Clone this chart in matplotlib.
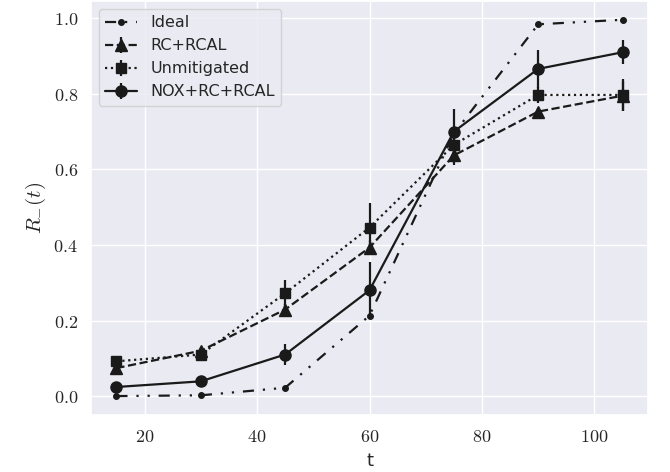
import matplotlib
matplotlib.use('Agg')
import matplotlib.pyplot as plt
from matplotlib.ticker import FormatStrFormatter
import seaborn as sns
import numpy as np

# values
t = [15, 30, 45, 60, 75, 90, 105]
ideal = [0.0, 0.002, 0.022, 0.213, 0.695, 0.984, 0.996]
rc_rcal = [0.074, 0.12, 0.229, 0.393, 0.637, 0.753, 0.795]
rc_rcal_err = [0.01, 0.01, 0.015, 0.02, 0.025, 0.01, 0.04]
unmit = [0.092, 0.11, 0.272, 0.446, 0.665, 0.797, 0.797]
unmit_err = [0.01, 0.01, 0.035, 0.065, 0.03, 0.02, 0.043]
nox = [0.024, 0.039, 0.11, 0.28, 0.70, 0.866, 0.91]
nox_err = [0.005, 0.007, 0.027, 0.075, 0.06, 0.05, 0.032]

sns.set_theme(style='darkgrid')
plt.rcParams['font.family'] = ['DejaVu Sans']
plt.rcParams['mathtext.fontset'] = 'cm'

fig, ax = plt.subplots(figsize=(6.7, 4.72), dpi=100)

ax.plot(t, ideal, c='k', lw=1.6, marker='o', ms=4,
        dashes=(5, 4, 1, 4, 1, 4), label='Ideal')
ax.errorbar(t, rc_rcal, yerr=rc_rcal_err, c='k', lw=1.6, ls='--',
            marker='^', ms=8, elinewidth=1.6, label='RC+RCAL')
ax.errorbar(t, unmit, yerr=unmit_err, c='k', lw=1.6, ls=':',
            marker='s', ms=7.5, elinewidth=1.6, label='Unmitigated')
ax.errorbar(t, nox, yerr=nox_err, c='k', lw=1.6, ls='-',
            marker='o', ms=8, elinewidth=1.6, label='NOX+RC+RCAL')

ax.xaxis.set_major_formatter(FormatStrFormatter(r'$%d$'))
ax.yaxis.set_major_formatter(FormatStrFormatter(r'$%.1f$'))
ax.tick_params(labelsize=13)
ax.set_xlabel('t', fontsize=13)
ax.set_ylabel(r'$R_{-}(t)$', fontsize=15)
ax.legend(loc='upper left', fontsize=11.5)

fig.subplots_adjust(left=0.136, right=0.967, top=0.998, bottom=0.121)
fig.savefig('out.png', dpi=100)
